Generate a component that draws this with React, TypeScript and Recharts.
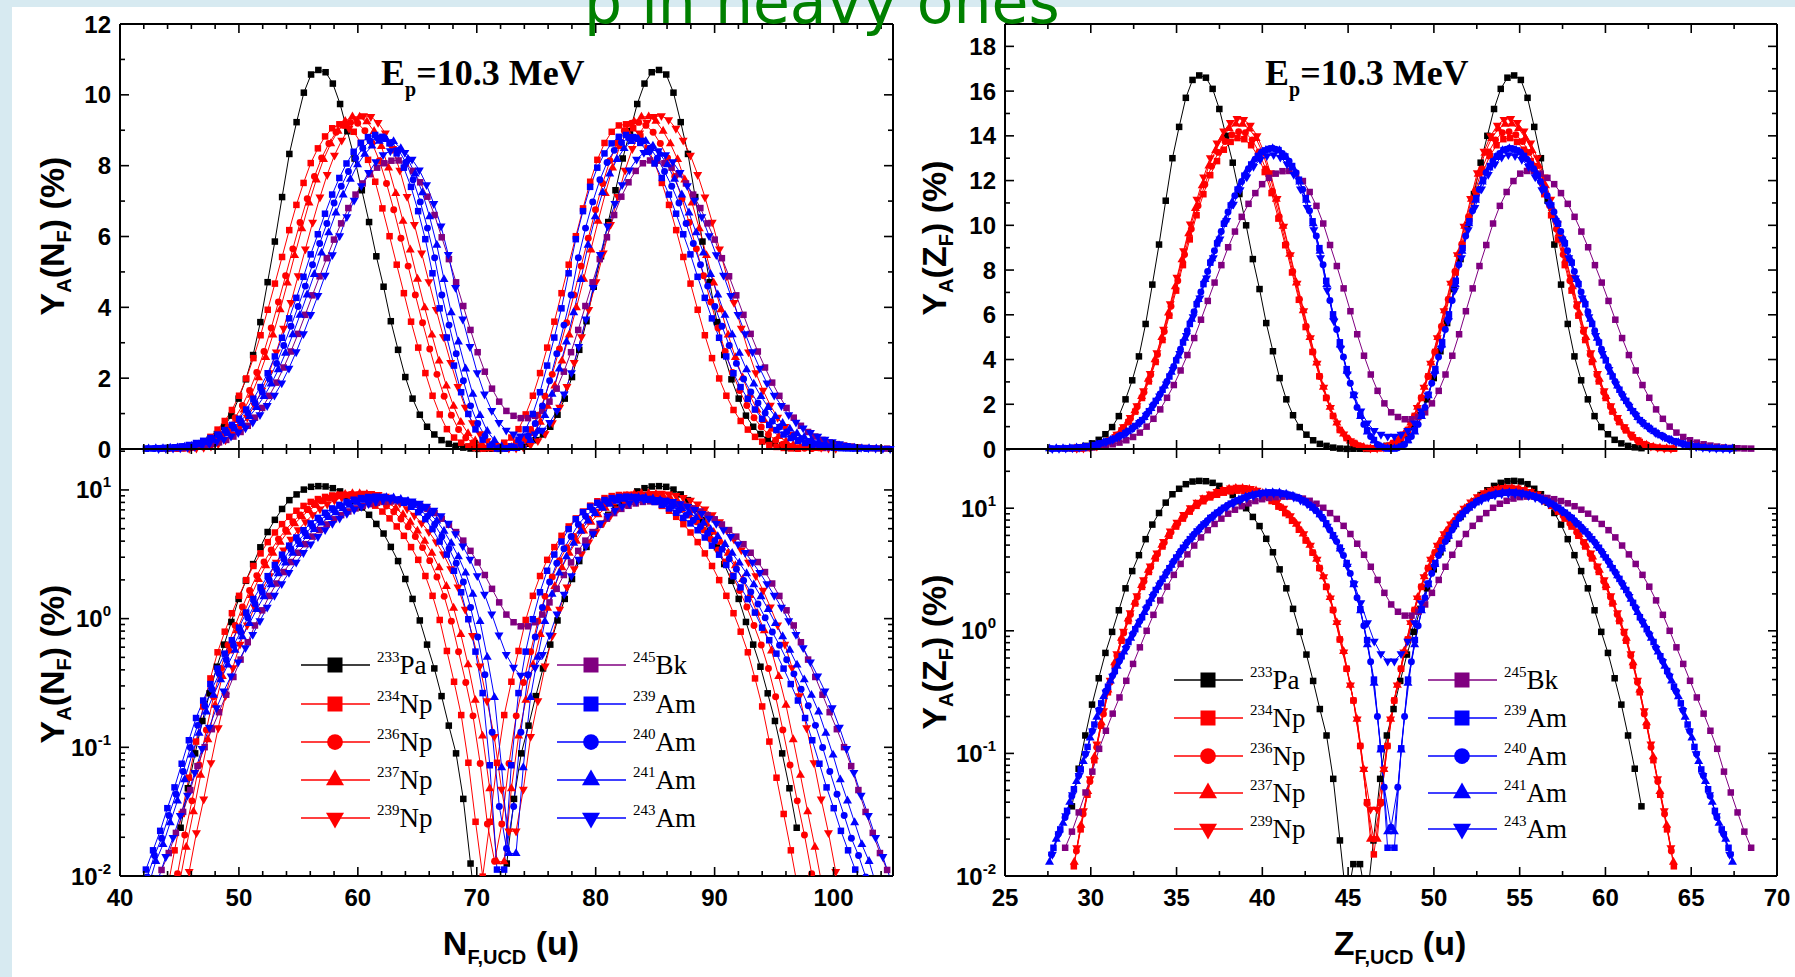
import React from 'react';
import { LineChart, Line, XAxis, YAxis } from 'recharts';

const BLACK = '#000000';
const RED = '#ff0000';
const PURPLE = '#800080';
const BLUE = '#0000ff';

const sans = '"Liberation Sans", Arial, Helvetica, sans-serif';
const serif = '"Liberation Serif", "Times New Roman", serif';

// Y_A(Z_F) in %, one value per primary fragment mass A (consecutive masses from firstA)
const pa233 = [
  0.037, 0.075, 0.14, 0.25, 0.41, 0.66, 0.98, 1.47, 2.22, 3.07,
  4.14, 5.59, 7.35, 9.14, 11.1, 13.0, 14.4, 15.7, 16.5, 16.7,
  16.6, 16.1, 15.2, 14.0, 12.8, 11.4, 10.0, 8.49, 7.15, 5.63,
  4.37, 3.17, 2.22, 1.51, 0.98, 0.64, 0.39, 0.23, 0.14, 0.062,
  0.0195, 0.006, 0.0125,
  0.0125, 0.006, 0.0195,
  0.062, 0.14, 0.23, 0.39, 0.64, 0.98, 1.51, 2.22, 3.17, 4.37,
  5.63, 7.15, 8.49, 10.0, 11.4, 12.8, 14.0, 15.2, 16.1, 16.6,
  16.7, 16.5, 15.7, 14.4, 13.0, 11.1, 9.14, 7.35, 5.59, 4.14,
  3.07, 2.22, 1.47, 0.98, 0.66, 0.41, 0.25, 0.14, 0.075, 0.037,
];

const np234 = [
  0.012, 0.024, 0.046, 0.088, 0.168, 0.315, 0.52, 0.83, 1.2, 1.67,
  2.28, 3.02, 3.89, 4.87, 5.96, 7.08, 8.22, 9.37, 10.45, 11.39,
  12.24, 12.87, 13.38, 13.73, 13.9, 13.85, 13.58, 13.1, 12.38, 11.44,
  10.3, 9.11, 7.89, 6.67, 5.45, 4.34, 3.25, 2.28, 1.48, 0.85,
  0.49, 0.27, 0.115, 0.04,
  0.015,
  0.04, 0.115, 0.27, 0.49,
  0.85, 1.48, 2.28, 3.25, 4.34, 5.45, 6.67, 7.89, 9.11, 10.3,
  11.44, 12.38, 13.1, 13.58, 13.85, 13.9, 13.73, 13.38, 12.87, 12.24,
  11.39, 10.45, 9.37, 8.22, 7.08, 5.96, 4.87, 3.89, 3.02, 2.28,
  1.67, 1.2, 0.83, 0.52, 0.315, 0.168, 0.088, 0.046, 0.024, 0.012,
];

const np236 = [
  0.016, 0.032, 0.059, 0.112, 0.21, 0.38, 0.63, 0.96, 1.36, 1.89,
  2.54, 3.32, 4.23, 5.25, 6.38, 7.52, 8.69, 9.83, 10.87, 11.83,
  12.64, 13.26, 13.75, 14.05, 14.18, 14.14, 13.82, 13.28, 12.52, 11.53,
  10.39, 9.15, 7.94, 6.69, 5.48, 4.34, 3.24, 2.29, 1.47, 0.85,
  0.49, 0.27, 0.115, 0.039,
  0.02,
  0.039, 0.115, 0.27, 0.49,
  0.85, 1.47, 2.29, 3.24, 4.34, 5.48, 6.69, 7.94, 9.15, 10.39,
  11.53, 12.52, 13.28, 13.82, 14.14, 14.18, 14.05, 13.75, 13.26, 12.64,
  11.83, 10.87, 9.83, 8.69, 7.52, 6.38, 5.25, 4.23, 3.32, 2.54,
  1.89, 1.36, 0.96, 0.63, 0.38, 0.21, 0.112, 0.059, 0.032, 0.016,
];

const np237 = [
  0.013, 0.026, 0.049, 0.094, 0.178, 0.33, 0.55, 0.87, 1.25, 1.71,
  2.35, 3.12, 4.0, 4.99, 6.09, 7.26, 8.46, 9.63, 10.76, 11.77,
  12.66, 13.35, 13.9, 14.33, 14.53, 14.52, 14.31, 13.89, 13.23, 12.29,
  11.17, 9.96, 8.71, 7.43, 6.18, 4.99, 3.85, 2.76, 1.87, 1.17,
  0.68, 0.36, 0.19, 0.074, 0.02,
  0.02, 0.074, 0.19, 0.36, 0.68,
  1.17, 1.87, 2.76, 3.85, 4.99, 6.18, 7.43, 8.71, 9.96, 11.17,
  12.29, 13.23, 13.89, 14.31, 14.52, 14.53, 14.33, 13.9, 13.35, 12.66,
  11.77, 10.76, 9.63, 8.46, 7.26, 6.09, 4.99, 4.0, 3.12, 2.35,
  1.71, 1.25, 0.87, 0.55, 0.33, 0.178, 0.094, 0.049, 0.026, 0.013,
];

const np239 = [
  0.017, 0.034, 0.062, 0.119, 0.222, 0.395, 0.65, 0.99, 1.4, 1.93,
  2.6, 3.37, 4.3, 5.35, 6.49, 7.67, 8.86, 10.05, 11.16, 12.16,
  13.02, 13.68, 14.21, 14.59, 14.77, 14.73, 14.47, 14.0, 13.31, 12.35,
  11.19, 9.95, 8.68, 7.41, 6.18, 4.97, 3.83, 2.76, 1.85, 1.16,
  0.67, 0.36, 0.19, 0.074, 0.035,
  0.035, 0.074, 0.19, 0.36, 0.67,
  1.16, 1.85, 2.76, 3.83, 4.97, 6.18, 7.41, 8.68, 9.95, 11.19,
  12.35, 13.31, 14.0, 14.47, 14.73, 14.77, 14.59, 14.21, 13.68, 13.02,
  12.16, 11.16, 10.05, 8.86, 7.67, 6.49, 5.35, 4.3, 3.37, 2.6,
  1.93, 1.4, 0.99, 0.65, 0.395, 0.222, 0.119, 0.062, 0.034, 0.017,
];

const bk245 = [
  0.017, 0.023, 0.033, 0.048, 0.071, 0.109, 0.153, 0.211, 0.286, 0.391,
  0.537, 0.733, 1.0, 1.35, 1.77, 2.29, 2.86, 3.51, 4.2, 4.96,
  5.78, 6.62, 7.44, 8.22, 9.02, 9.72, 10.38, 10.96, 11.44, 11.84,
  12.12, 12.31, 12.42, 12.43, 12.31, 11.98, 11.49, 10.87, 10.08, 9.12,
  8.18, 7.18, 6.16, 5.13, 4.17, 3.33, 2.6, 2.04, 1.64, 1.43,
  1.33,
  1.33, 1.43, 1.64, 2.04, 2.6, 3.33, 4.17, 5.13, 6.16, 7.18, 8.18,
  9.12, 10.08, 10.87, 11.49, 11.98, 12.31, 12.43, 12.42, 12.31, 12.12,
  11.84, 11.44, 10.96, 10.38, 9.72, 9.02, 8.22, 7.44, 6.62, 5.78,
  4.96, 4.2, 3.51, 2.86, 2.29, 1.77, 1.35, 1.0, 0.733, 0.537,
  0.391, 0.286, 0.211, 0.153, 0.109, 0.071, 0.048, 0.033, 0.023, 0.017,
];

const am239 = [
  0.017, 0.024, 0.034, 0.051, 0.074, 0.113, 0.172, 0.256, 0.35, 0.47,
  0.62, 0.81, 1.03, 1.29, 1.69, 2.15, 2.65, 3.24, 3.96, 4.76,
  5.59, 6.47, 7.37, 8.33, 9.19, 10.07, 10.89, 11.6, 12.22, 12.72,
  13.1, 13.35, 13.44, 13.36, 13.08, 12.65, 12.04, 11.22, 10.18, 8.98,
  7.52, 6.02, 4.77, 3.57, 2.43, 1.5, 0.84, 0.4, 0.11, 0.017,
  0.017, 0.11, 0.4, 0.84, 1.5, 2.43, 3.57, 4.77, 6.02, 7.52,
  8.98, 10.18, 11.22, 12.04, 12.65, 13.08, 13.36, 13.44, 13.35, 13.1,
  12.72, 12.22, 11.6, 10.89, 10.07, 9.19, 8.33, 7.37, 6.47, 5.59,
  4.76, 3.96, 3.24, 2.65, 2.15, 1.69, 1.29, 1.03, 0.81, 0.62,
  0.47, 0.35, 0.256, 0.172, 0.113, 0.074, 0.051, 0.034, 0.024, 0.017,
];

const am240 = [
  0.015, 0.022, 0.03, 0.045, 0.066, 0.099, 0.152, 0.226, 0.321, 0.431,
  0.568, 0.732, 0.948, 1.2, 1.55, 1.98, 2.46, 3.02, 3.69, 4.46,
  5.29, 6.14, 7.02, 7.94, 8.86, 9.72, 10.6, 11.32, 11.96, 12.53,
  12.96, 13.28, 13.41, 13.4, 13.21, 12.87, 12.35, 11.6, 10.65, 9.52,
  8.24, 6.64, 5.34, 4.11, 2.94, 1.86, 1.1, 0.56, 0.2, 0.053,
  0.025,
  0.053, 0.2, 0.56, 1.1, 1.86, 2.94, 4.11, 5.34, 6.64, 8.24,
  9.52, 10.65, 11.6, 12.35, 12.87, 13.21, 13.4, 13.41, 13.28, 12.96,
  12.53, 11.96, 11.32, 10.6, 9.72, 8.86, 7.94, 7.02, 6.14, 5.29,
  4.46, 3.69, 3.02, 2.46, 1.98, 1.55, 1.2, 0.948, 0.732, 0.568,
  0.431, 0.321, 0.226, 0.152, 0.099, 0.066, 0.045, 0.03, 0.022, 0.015,
];

const am241 = [
  0.013, 0.02, 0.027, 0.04, 0.059, 0.086, 0.134, 0.198, 0.29, 0.39,
  0.516, 0.672, 0.873, 1.115, 1.41, 1.81, 2.28, 2.82, 3.44, 4.16,
  4.96, 5.81, 6.69, 7.58, 8.51, 9.39, 10.25, 11.03, 11.71, 12.34,
  12.8, 13.15, 13.36, 13.43, 13.35, 13.04, 12.57, 11.94, 11.12, 10.08,
  8.85, 7.36, 5.92, 4.65, 3.48, 2.38, 1.46, 0.77, 0.375, 0.107,
  0.023,
  0.023, 0.107, 0.375, 0.77, 1.46, 2.38, 3.48, 4.65, 5.92, 7.36, 8.85,
  10.08, 11.12, 11.94, 12.57, 13.04, 13.35, 13.43, 13.36, 13.15, 12.8,
  12.34, 11.71, 11.03, 10.25, 9.39, 8.51, 7.58, 6.69, 5.81, 4.96,
  4.16, 3.44, 2.82, 2.28, 1.81, 1.41, 1.115, 0.873, 0.672, 0.516,
  0.39, 0.29, 0.198, 0.134, 0.086, 0.059, 0.04, 0.027, 0.02, 0.013,
];

const am243 = [
  0.015, 0.022, 0.031, 0.046, 0.066, 0.099, 0.152, 0.223, 0.315, 0.425,
  0.557, 0.717, 0.924, 1.17, 1.5, 1.905, 2.36, 2.9, 3.55, 4.27,
  5.07, 5.91, 6.75, 7.64, 8.54, 9.38, 10.21, 10.94, 11.58, 12.16,
  12.63, 12.94, 13.11, 13.15, 13.04, 12.74, 12.27, 11.62, 10.79, 9.8,
  8.55, 7.1, 5.71, 4.5, 3.35, 2.41, 1.69, 1.16, 0.82, 0.65,
  0.565,
  0.565, 0.65, 0.82, 1.16, 1.69, 2.41, 3.35, 4.5, 5.71, 7.1, 8.55,
  9.8, 10.79, 11.62, 12.27, 12.74, 13.04, 13.15, 13.11, 12.94, 12.63,
  12.16, 11.58, 10.94, 10.21, 9.38, 8.54, 7.64, 6.75, 5.91, 5.07,
  4.27, 3.55, 2.9, 2.36, 1.905, 1.5, 1.17, 0.924, 0.717, 0.557,
  0.425, 0.315, 0.223, 0.152, 0.099, 0.066, 0.046, 0.031, 0.022, 0.015,
];

type Marker = 'square' | 'circle' | 'up' | 'down';

interface System {
  iso: string;
  el: string;
  z: number;
  a: number;
  firstA: number;
  yields: number[];
  color: string;
  marker: Marker;
}

// fissioning systems in legend / drawing order
const systems: System[] = [
  { iso: '233', el: 'Pa', z: 91, a: 233, firstA: 74, yields: pa233, color: BLACK, marker: 'square' },
  { iso: '234', el: 'Np', z: 93, a: 234, firstA: 73, yields: np234, color: RED, marker: 'square' },
  { iso: '236', el: 'Np', z: 93, a: 236, firstA: 74, yields: np236, color: RED, marker: 'circle' },
  { iso: '237', el: 'Np', z: 93, a: 237, firstA: 74, yields: np237, color: RED, marker: 'up' },
  { iso: '239', el: 'Np', z: 93, a: 239, firstA: 75, yields: np239, color: RED, marker: 'down' },
  { iso: '245', el: 'Bk', z: 97, a: 245, firstA: 72, yields: bk245, color: PURPLE, marker: 'square' },
  { iso: '239', el: 'Am', z: 95, a: 239, firstA: 70, yields: am239, color: BLUE, marker: 'square' },
  { iso: '240', el: 'Am', z: 95, a: 240, firstA: 70, yields: am240, color: BLUE, marker: 'circle' },
  { iso: '241', el: 'Am', z: 95, a: 241, firstA: 70, yields: am241, color: BLUE, marker: 'up' },
  { iso: '243', el: 'Am', z: 95, a: 243, firstA: 71, yields: am243, color: BLUE, marker: 'down' },
];

// axis ticks
const nTicks = [40, 42, 44, 46, 48, 50, 52, 54, 56, 58, 60, 62, 64, 66, 68, 70, 72, 74, 76, 78, 80, 82, 84, 86, 88, 90, 92, 94, 96, 98, 100, 102, 104];
const nLabels = [40, 50, 60, 70, 80, 90, 100];
const zTicks = [25, 27.5, 30, 32.5, 35, 37.5, 40, 42.5, 45, 47.5, 50, 52.5, 55, 57.5, 60, 62.5, 65, 67.5, 70];
const zLabels = [25, 30, 35, 40, 45, 50, 55, 60, 65, 70];
const yTicksN = [0, 1, 2, 3, 4, 5, 6, 7, 8, 9, 10, 11, 12];
const yLabelsN = [0, 2, 4, 6, 8, 10, 12];
const yTicksZ = [0, 1, 2, 3, 4, 5, 6, 7, 8, 9, 10, 11, 12, 13, 14, 15, 16, 17, 18];
const yLabelsZ = [0, 2, 4, 6, 8, 10, 12, 14, 16, 18];
const logTicksN = [0.01, 0.02, 0.03, 0.04, 0.05, 0.06, 0.07, 0.08, 0.09, 0.1, 0.2, 0.3, 0.4, 0.5, 0.6, 0.7, 0.8, 0.9, 1, 2, 3, 4, 5, 6, 7, 8, 9, 10, 20];
const logTicksZ = [...logTicksN, 30];
const logLabels = [0.01, 0.1, 1, 10];

// unchanged charge density: N_F = A_F * N / A, Z_F = A_F * Z / A
function ucdPoints(s: System, axis: 'N' | 'Z') {
  const n = s.a - s.z;
  return s.yields.map((y, i) => {
    const af = s.firstA + i;
    return axis === 'Z' ? { x: (af * s.z) / s.a, y } : { x: (af * n) / s.a, y: (y * s.z) / n };
  });
}

function MarkerShape({ kind, x, y, size, color }: { kind: Marker; x: number; y: number; size: number; color: string }) {
  const h = size / 2;
  if (kind === 'square') return <rect x={x - h} y={y - h} width={size} height={size} fill={color} />;
  if (kind === 'circle') return <circle cx={x} cy={y} r={h * 1.05} fill={color} />;
  const s = size * 1.2;
  const top = s * 0.58;
  const bot = s * 0.29;
  const half = s / 2;
  const pts =
    kind === 'up'
      ? `${x},${y - top} ${x - half},${y + bot} ${x + half},${y + bot}`
      : `${x},${y + top} ${x - half},${y - bot} ${x + half},${y - bot}`;
  return <polygon points={pts} fill={color} />;
}

type Side = 'bottom' | 'top' | 'left' | 'right';

const has = (list: number[], v: number) => list.some((m) => Math.abs(m - v) < 1e-9);

function makeTick(side: Side, majors: number[], label?: (v: number) => React.ReactNode) {
  return (props: any) => {
    const { x, y, payload } = props;
    const v = payload.value as number;
    const major = has(majors, v);
    const len = major ? 9 : 5;
    let tickLine: React.ReactNode;
    if (side === 'bottom') tickLine = <line x1={x} y1={y} x2={x} y2={y - len} />;
    else if (side === 'top') tickLine = <line x1={x} y1={y} x2={x} y2={y + len} />;
    else if (side === 'left') tickLine = <line x1={x} y1={y} x2={x + len} y2={y} />;
    else tickLine = <line x1={x} y1={y} x2={x - len} y2={y} />;
    let text: React.ReactNode = null;
    if (major && label) {
      text =
        side === 'bottom' ? (
          <text x={x} y={y + 30} textAnchor="middle" stroke="none" fill="#000" fontFamily={sans} fontWeight={700} fontSize={24}>
            {label(v)}
          </text>
        ) : (
          <text x={x - 9} y={y + 8.5} textAnchor="end" stroke="none" fill="#000" fontFamily={sans} fontWeight={700} fontSize={24}>
            {label(v)}
          </text>
        );
    }
    return (
      <g stroke="#000" strokeWidth={1.6}>
        {tickLine}
        {text}
      </g>
    );
  };
}

const plainLabel = (v: number) => String(v);
const decadeLabel = (v: number) => (
  <>
    10
    <tspan dy={-11} fontSize={15}>
      {Math.round(Math.log10(v))}
    </tspan>
  </>
);

const frame = { stroke: '#000', strokeWidth: 2 };

// room reserved around each plot area for the four axes
const AX_LEFT = 100;
const AX_RIGHT = 25;
const AX_TOP = 20;
const AX_BOTTOM = 60;

interface PanelProps {
  axis: 'N' | 'Z';
  log: boolean;
  x0: number;
  y0: number;
  w: number;
  h: number;
  xDomain: [number, number];
  yDomain: [number, number];
  xTicks: number[];
  xMajors: number[];
  yTicks: number[];
  yMajors: number[];
  showXLabels: boolean;
}

function Panel(p: PanelProps) {
  const yLabel = p.log ? decadeLabel : plainLabel;
  const yScale = p.log ? 'log' : 'linear';
  return (
    <div style={{ position: 'absolute', left: p.x0 - AX_LEFT, top: p.y0 - AX_TOP }}>
      <LineChart
        width={p.w + AX_LEFT + AX_RIGHT}
        height={p.h + AX_TOP + AX_BOTTOM}
        margin={{ top: 0, right: 0, bottom: 0, left: 0 }}
      >
        <XAxis
          xAxisId="bottom"
          dataKey="x"
          type="number"
          domain={p.xDomain}
          ticks={p.xTicks}
          interval={0}
          height={AX_BOTTOM}
          tickSize={0}
          tickMargin={0}
          tickLine={false}
          axisLine={frame}
          allowDataOverflow={p.log}
          tick={makeTick('bottom', p.xMajors, p.showXLabels ? plainLabel : undefined)}
        />
        <XAxis
          xAxisId="top"
          orientation="top"
          dataKey="x"
          type="number"
          domain={p.xDomain}
          ticks={p.xTicks}
          interval={0}
          height={AX_TOP}
          tickSize={0}
          tickMargin={0}
          tickLine={false}
          axisLine={frame}
          allowDataOverflow
          tick={makeTick('top', p.xMajors)}
        />
        <YAxis
          yAxisId="left"
          type="number"
          scale={yScale}
          domain={p.yDomain}
          ticks={p.yTicks}
          interval={0}
          width={AX_LEFT}
          tickSize={0}
          tickMargin={0}
          tickLine={false}
          axisLine={frame}
          allowDataOverflow={p.log}
          tick={makeTick('left', p.yMajors, yLabel)}
        />
        <YAxis
          yAxisId="right"
          orientation="right"
          type="number"
          scale={yScale}
          domain={p.yDomain}
          ticks={p.yTicks}
          interval={0}
          width={AX_RIGHT}
          tickSize={0}
          tickMargin={0}
          tickLine={false}
          axisLine={frame}
          allowDataOverflow
          tick={makeTick('right', p.yMajors)}
        />
        {systems.map((s, si) => (
          <Line
            key={`${p.axis}-${p.log ? 'log' : 'lin'}-${si}`}
            xAxisId="bottom"
            yAxisId="left"
            data={ucdPoints(s, p.axis)}
            dataKey="y"
            type="linear"
            stroke={s.color}
            strokeWidth={1}
            isAnimationActive={false}
            activeDot={false}
            legendType="none"
            dot={(d: any) =>
              d.cx == null || d.cy == null ? (
                <g key={`d-${si}-${d.index}`} />
              ) : (
                <MarkerShape
                  key={`d-${si}-${d.index}`}
                  kind={s.marker}
                  x={d.cx}
                  y={d.cy}
                  size={s.marker === 'square' ? 6.5 : s.marker === 'circle' ? 6.6 : 7.5}
                  color={s.color}
                />
              )
            }
          />
        ))}
      </LineChart>
    </div>
  );
}

function YTitle({ x, y, v }: { x: number; y: number; v: string }) {
  return (
    <text
      transform={`translate(${x},${y}) rotate(-90)`}
      textAnchor="middle"
      fontFamily={sans}
      fontWeight={700}
      fontSize={34}
      fill="#000"
    >
      Y<tspan fontSize={20} dy={7}>A</tspan>
      <tspan dy={-7}>({v}</tspan>
      <tspan fontSize={20} dy={7}>F</tspan>
      <tspan dy={-7}>) (%)</tspan>
    </text>
  );
}

function XTitle({ x, y, v }: { x: number; y: number; v: string }) {
  return (
    <text x={x} y={y} textAnchor="middle" fontFamily={sans} fontWeight={700} fontSize={34} fill="#000">
      {v}
      <tspan fontSize={20} dy={9}>F,UCD</tspan>
      <tspan dy={-9}> (u)</tspan>
    </text>
  );
}

function EnergyNote({ x, y }: { x: number; y: number }) {
  return (
    <text x={x} y={y} fontFamily={serif} fontWeight={700} fontSize={36} fill="#000">
      E<tspan fontSize={20} dy={11}>p</tspan>
      <tspan dy={-11}>=10.3 MeV</tspan>
    </text>
  );
}

function LegendBlock({ cols, rows }: { cols: [number, number]; rows: number[] }) {
  return (
    <g>
      {systems.map((s, i) => {
        const x = cols[i < 5 ? 0 : 1];
        const y = rows[i % 5];
        return (
          <g key={i}>
            <line x1={x} x2={x + 69} y1={y} y2={y} stroke={s.color} strokeWidth={1.5} />
            <MarkerShape kind={s.marker} x={x + 34} y={y} size={15} color={s.color} />
            <text x={x + 76} y={y + 9} fontFamily={serif} fontSize={27} fill="#000">
              <tspan fontSize={15} dy={-12}>{s.iso}</tspan>
              <tspan dy={12}>{s.el}</tspan>
            </text>
          </g>
        );
      })}
    </g>
  );
}

export default function App() {
  return (
    <div style={{ position: 'absolute', left: 0, top: 0, width: 1795, height: 977, background: '#d7eaf1', overflow: 'hidden' }}>
      <div style={{ position: 'absolute', left: 12, top: 7, width: 1783, height: 970, background: '#ffffff' }} />

      <Panel axis="N" log={false} x0={120} y0={24} w={773} h={425} xDomain={[40, 105]} yDomain={[0, 12]}
        xTicks={nTicks} xMajors={nLabels} yTicks={yTicksN} yMajors={yLabelsN} showXLabels={false} />
      <Panel axis="N" log x0={120} y0={449} w={773} h={427} xDomain={[40, 105]} yDomain={[0.01, 20.8]}
        xTicks={nTicks} xMajors={nLabels} yTicks={logTicksN} yMajors={logLabels} showXLabels />
      <Panel axis="Z" log={false} x0={1005} y0={24} w={772} h={425} xDomain={[25, 70]} yDomain={[0, 19]}
        xTicks={zTicks} xMajors={zLabels} yTicks={yTicksZ} yMajors={yLabelsZ} showXLabels={false} />
      <Panel axis="Z" log x0={1005} y0={449} w={772} h={427} xDomain={[25, 70]} yDomain={[0.01, 30.4]}
        xTicks={zTicks} xMajors={zLabels} yTicks={logTicksZ} yMajors={logLabels} showXLabels />

      <svg width={1795} height={977} style={{ position: 'absolute', left: 0, top: 0, pointerEvents: 'none' }}>
        <YTitle x={64} y={236} v="N" />
        <YTitle x={64} y={664} v="N" />
        <YTitle x={946} y={238} v="Z" />
        <YTitle x={946} y={652} v="Z" />
        <XTitle x={511} y={955} v="N" />
        <XTitle x={1400} y={955} v="Z" />
        <EnergyNote x={381} y={85} />
        <EnergyNote x={1265} y={85} />
        <LegendBlock cols={[301, 557]} rows={[665, 704, 742, 780, 818]} />
        <LegendBlock cols={[1174, 1428]} rows={[680, 718, 756, 793, 829]} />
        <text x={584} y={23} fontFamily='"DejaVu Sans", Verdana, sans-serif' fontSize={60} fill="#008000">
          p in heavy ones
        </text>
      </svg>
    </div>
  );
}
